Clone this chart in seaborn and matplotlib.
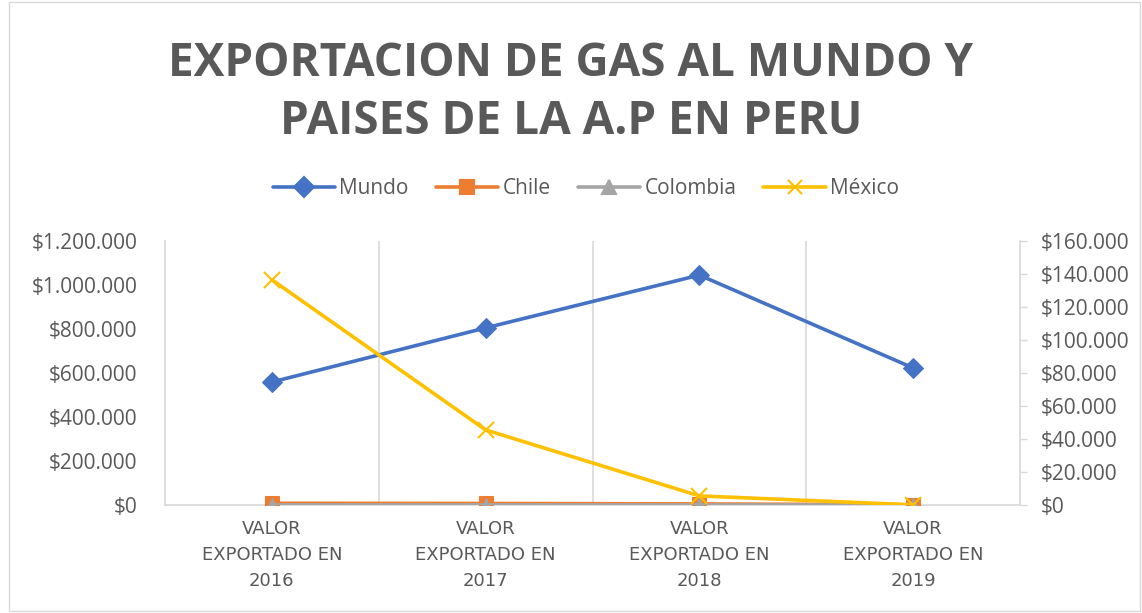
import matplotlib
matplotlib.use("Agg")
import matplotlib.pyplot as plt
import matplotlib.ticker as mticker
from matplotlib.lines import Line2D
import pandas as pd
import seaborn as sns

# Data
categorias = ["VALOR\nEXPORTADO EN\n2016", "VALOR\nEXPORTADO EN\n2017",
              "VALOR\nEXPORTADO EN\n2018", "VALOR\nEXPORTADO EN\n2019"]
mundo = [559000, 805000, 1045000, 623000]
chile = [8000, 7000, 5000, 1000]
colombia = [500, 400, 300, 100]
mexico = [136500, 45500, 5500, 100]

colores = {"Mundo": "#4472C4", "Chile": "#ED7D31", "Colombia": "#A5A5A5", "México": "#FFC000"}
marcadores = {"Mundo": "D", "Chile": "s", "Colombia": "^", "México": "x"}
gris = "#595959"

sns.set_theme(style="white")
plt.rcParams['font.family'] = ['Open Sans', 'DejaVu Sans']

x = list(range(len(categorias)))
df = pd.DataFrame({"x": x * 3,
                   "valor": mundo + chile + colombia,
                   "serie": ["Mundo"] * 4 + ["Chile"] * 4 + ["Colombia"] * 4})
df_mx = pd.DataFrame({"x": x, "valor": mexico, "serie": ["México"] * 4})

fig = plt.figure(figsize=(11.42, 6.13), dpi=100)
ax = fig.add_axes([165 / 1142, 1 - 505 / 613, 855 / 1142, 264 / 613])
ax2 = ax.twinx()

for nombre in ["Mundo", "Chile", "Colombia"]:
    sub = df[df["serie"] == nombre]
    sns.lineplot(data=sub, x="x", y="valor", ax=ax, color=colores[nombre],
                 marker=marcadores[nombre], markersize=10,
                 markeredgecolor=colores[nombre], linewidth=2.6, legend=False, zorder=3)
sns.lineplot(data=df_mx, x="x", y="valor", ax=ax2, color=colores["México"],
             marker="x", markersize=11, markeredgewidth=1.5, markeredgecolor=colores["México"],
             linewidth=2.6, legend=False, zorder=3)

# Axes scales
ax.set_xlim(-0.5, 3.5)
ax.set_ylim(0, 1200000)
ax2.set_ylim(0, 160000)
ax.yaxis.set_major_locator(mticker.MultipleLocator(200000))
ax2.yaxis.set_major_locator(mticker.MultipleLocator(20000))
fmt = mticker.FuncFormatter(lambda v, p: "$" + f"{int(round(v)):,}".replace(",", "."))
ax.yaxis.set_major_formatter(fmt)
ax2.yaxis.set_major_formatter(fmt)

ax.set_xticks(x)
ax.set_xticklabels(categorias, fontsize=13, color=gris, linespacing=1.55,
                   fontfamily="DejaVu Sans")
ax.tick_params(axis="x", length=0, pad=11)
ax.tick_params(axis="y", length=0, pad=20, labelsize=15, labelcolor=gris)
ax2.tick_params(axis="y", length=5, width=1, color="#D9D9D9", pad=10, labelsize=15, labelcolor=gris)
ax.set_xlabel("")
ax.set_ylabel("")
ax2.set_ylabel("")

# Category boundary gridlines
for b in [0.5, 1.5, 2.5]:
    ax.axvline(b, color="#D9D9D9", linewidth=1.2, zorder=0)
for a in (ax, ax2):
    for s in a.spines.values():
        s.set_visible(False)
ax.spines["left"].set_visible(True)
ax.spines["left"].set_color("#D9D9D9")
ax.spines["bottom"].set_visible(True)
ax.spines["bottom"].set_color("#D9D9D9")
ax2.spines["right"].set_visible(True)
ax2.spines["right"].set_color("#D9D9D9")

# Title
fig.text(0.5, 1 - 64 / 613, "EXPORTACION DE GAS AL MUNDO Y", ha="center", va="center",
         fontsize=33, fontweight="bold", color=gris)
fig.text(0.5, 1 - 122 / 613, "PAISES DE LA A.P EN PERU", ha="center", va="center",
         fontsize=33, fontweight="bold", color=gris)

# Legend
handles = [Line2D([0], [0], color=colores[n], marker=marcadores[n], linewidth=2.6,
                  markersize=10, markeredgewidth=1.5) for n in colores]
fig.legend(handles, list(colores.keys()), loc="center", bbox_to_anchor=(0.513, 1 - 189 / 613),
           ncol=4, frameon=False, fontsize=15, labelcolor=gris, handlelength=3,
           columnspacing=1.3, handletextpad=0.2)

# Chart border
fig.patches.append(plt.Rectangle((0.008, 0.003), 0.99, 0.994, transform=fig.transFigure,
                                 fill=False, edgecolor="#D9D9D9", linewidth=1))

fig.savefig("out.png", dpi=100)
